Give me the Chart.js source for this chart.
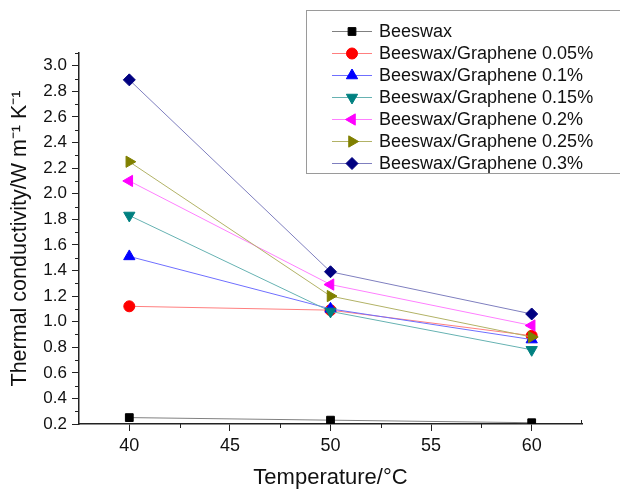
<!DOCTYPE html>
<html lang="en">
<head>
<meta charset="UTF-8">
<title>Thermal conductivity vs temperature</title>
<script src="https://cdn.jsdelivr.net/npm/chart.js"></script>
<style>
body {
    margin: 0;
    background: #ffffff;
}
.wrap {
    position: relative;
    width: 620px;
    height: 491px;
}
</style>
</head>
<body>
<div class="wrap">
    <canvas id="chart"></canvas>
</div>
<script>
// temperatures (°C) and conductivity readings for each sample
const temps = [40, 50, 60];
const beeswax = [0.25, 0.23, 0.21];
const graphene005 = [1.12, 1.09, 0.89];
const graphene01 = [1.51, 1.10, 0.86];
const graphene015 = [1.83, 1.08, 0.78];
const graphene02 = [2.10, 1.29, 0.97];
const graphene025 = [2.25, 1.20, 0.88];
const graphene03 = [2.89, 1.39, 1.06];

const seriesNames = [
    'Beeswax',
    'Beeswax/Graphene 0.05%',
    'Beeswax/Graphene 0.1%',
    'Beeswax/Graphene 0.15%',
    'Beeswax/Graphene 0.2%',
    'Beeswax/Graphene 0.25%',
    'Beeswax/Graphene 0.3%'
];
const seriesValues = [beeswax, graphene005, graphene01, graphene015, graphene02, graphene025, graphene03];

const xTicks = [40, 45, 50, 55, 60];
const xMinorTicks = [42.5, 47.5, 52.5, 57.5];
const yTicks = [0.2, 0.4, 0.6, 0.8, 1.0, 1.2, 1.4, 1.6, 1.8, 2.0, 2.2, 2.4, 2.6, 2.8, 3.0];
const yMinorTicks = [0.3, 0.5, 0.7, 0.9, 1.1, 1.3, 1.5, 1.7, 1.9, 2.1, 2.3, 2.5, 2.7, 2.9, 3.1];

// marker colour, line colour, point shape, rotation, radius
const markerColors = ['#000000', '#ff0000', '#0000ff', '#008080', '#ff00ff', '#808000', '#000080'];
const lineColors = ['#808080', '#ff7f7f', '#6f6fff', '#66b2b2', '#ff7fff', '#b2b266', '#7f7fbf'];
const shapes = ['rect', 'circle', 'triangle', 'triangle', 'triangle', 'triangle', 'rectRot'];
const rotations = [0, 0, 0, 180, 270, 90, 0];
const radii = [5.5, 5.5, 6.5, 6.5, 6.5, 6.5, 6];

const FONT = "'Liberation Sans', Arial, Helvetica, sans-serif";

const datasets = seriesValues.map(function(vals, i) {
    return {
        label: seriesNames[i],
        data: vals.map(function(v, j) { return { x: temps[j], y: v }; }),
        borderColor: lineColors[i],
        borderWidth: 1,
        backgroundColor: markerColors[i],
        pointBackgroundColor: markerColors[i],
        pointBorderColor: markerColors[i],
        pointBorderWidth: 1,
        pointStyle: shapes[i],
        pointRotation: rotations[i],
        pointRadius: radii[i],
        pointHoverRadius: radii[i],
        tension: 0,
        fill: false,
        order: seriesValues.length - 1 - i
    };
});

// short in-between ticks on both axes, plus the closing tick at the x axis end
const minorTicks = {
    id: 'minorTicks',
    afterDraw(chart) {
        const ctx = chart.ctx;
        const xs = chart.scales.x;
        const ys = chart.scales.y;
        const area = chart.chartArea;
        ctx.save();
        ctx.strokeStyle = '#222222';
        ctx.lineWidth = 1;
        ctx.beginPath();
        yMinorTicks.forEach(function(v) {
            const py = Math.round(ys.getPixelForValue(v)) + 0.5;
            ctx.moveTo(area.left - 4, py);
            ctx.lineTo(area.left, py);
        });
        xMinorTicks.forEach(function(v) {
            const px = Math.round(xs.getPixelForValue(v)) + 0.5;
            ctx.moveTo(px, area.bottom);
            ctx.lineTo(px, area.bottom + 4);
        });
        const endX = Math.round(area.right) - 0.5;
        ctx.moveTo(endX, area.bottom);
        ctx.lineTo(endX, area.bottom - 4);
        ctx.stroke();
        ctx.restore();
    }
};

// boxed legend with line + marker samples
const boxLegend = {
    id: 'boxLegend',
    afterDraw(chart) {
        const ctx = chart.ctx;
        const left = 306.5, top = 10.5, bottom = 173.5;
        ctx.save();
        ctx.fillStyle = '#ffffff';
        ctx.fillRect(left, top, 330, bottom - top);
        ctx.strokeStyle = '#9a9a9a';
        ctx.lineWidth = 1;
        ctx.strokeRect(left, top, 330, bottom - top);
        ctx.font = '18px ' + FONT;
        ctx.textBaseline = 'middle';
        seriesNames.forEach(function(name, i) {
            const y = 31.5 + i * 22;
            ctx.strokeStyle = lineColors[i];
            ctx.lineWidth = 1;
            ctx.beginPath();
            ctx.moveTo(332, y);
            ctx.lineTo(372, y);
            ctx.stroke();
            ctx.fillStyle = markerColors[i];
            ctx.strokeStyle = markerColors[i];
            Chart.helpers.drawPoint(ctx, {
                pointStyle: shapes[i],
                rotation: rotations[i],
                radius: radii[i],
                borderWidth: 1
            }, 352, y);
            ctx.fillStyle = '#111111';
            ctx.fillText(name, 379, y + 1);
        });
        ctx.restore();
    }
};

const ctx = document.getElementById('chart').getContext('2d');
new Chart(ctx, {
    type: 'line',
    data: { datasets: datasets },
    options: {
        responsive: true,
        maintainAspectRatio: false,
        animation: false,
        events: [],
        layout: { padding: { top: 53, right: 38, left: 0, bottom: 0 } },
        plugins: {
            legend: { display: false },
            tooltip: { enabled: false }
        },
        scales: {
            x: {
                type: 'linear',
                min: 37.5,
                max: 62.5,
                afterBuildTicks: function(scale) {
                    scale.ticks = xTicks.map(function(v) { return { value: v }; });
                },
                afterFit: function(scale) { scale.height = 67; },
                border: { display: true, color: '#222222', width: 1.5 },
                grid: { drawOnChartArea: false, drawTicks: true, tickLength: 7, tickColor: '#222222', tickWidth: 1 },
                ticks: {
                    color: '#111111',
                    font: { family: FONT, size: 18 },
                    padding: 4,
                    maxRotation: 0,
                    callback: function(v) { return String(v); }
                },
                title: {
                    display: true,
                    text: 'Temperature/°C',
                    color: '#111111',
                    font: { family: FONT, size: 22 },
                    padding: { top: 0, bottom: 0 }
                }
            },
            y: {
                type: 'linear',
                min: 0.2,
                max: 3.1,
                afterBuildTicks: function(scale) {
                    scale.ticks = yTicks.map(function(v) { return { value: v }; });
                },
                afterFit: function(scale) { scale.width = 79; },
                border: { display: true, color: '#222222', width: 1.5 },
                grid: { drawOnChartArea: false, drawTicks: true, tickLength: 7, tickColor: '#222222', tickWidth: 1 },
                ticks: {
                    color: '#111111',
                    font: { family: FONT, size: 17 },
                    padding: 5,
                    callback: function(v) { return Number(v).toFixed(1); }
                },
                title: {
                    display: true,
                    text: 'Thermal conductivity/W m\u207B\u00B9 K\u207B\u00B9',
                    color: '#111111',
                    font: { family: FONT, size: 21.5 },
                    padding: { top: 7, bottom: 0 }
                }
            }
        }
    },
    plugins: [minorTicks, boxLegend]
});
</script>
</body>
</html>
